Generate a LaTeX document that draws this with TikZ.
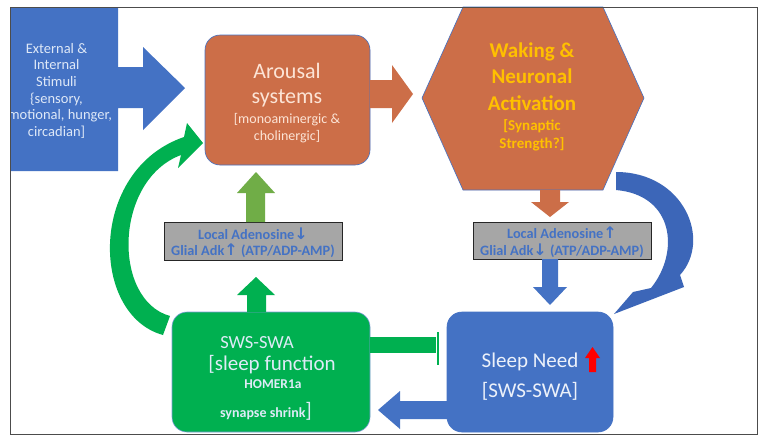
\documentclass[tikz,border=0pt]{standalone}
\usepackage{fontspec}
\setmainfont{Carlito}
\newfontfamily\symfont{DejaVu Sans}
\definecolor{pblue}{RGB}{68,114,196}
\definecolor{dblue}{RGB}{60,102,184}
\definecolor{porange}{RGB}{204,110,72}
\definecolor{pgreen}{RGB}{0,176,80}
\definecolor{lgreen}{RGB}{112,173,71}
\definecolor{pgray}{RGB}{166,166,166}
\definecolor{pyellow}{RGB}{255,192,0}
\definecolor{stimcol}{RGB}{222,232,247}
\definecolor{arocol}{RGB}{252,228,214}
\definecolor{swscol}{RGB}{222,235,247}
\definecolor{needcol}{RGB}{236,241,250}
\begin{document}
\begin{tikzpicture}[x=1pt,y=-1pt,
  lbl/.style={inner sep=0pt, outer sep=0pt, anchor=base},
  stimtext/.style={lbl, text=stimcol, font=\fontsize{14.5}{17}\selectfont},
  arobig/.style={lbl, text=arocol, font=\fontsize{22}{25}\selectfont},
  arosmall/.style={lbl, text=arocol, font=\fontsize{14}{17}\selectfont},
  wakebig/.style={lbl, text=pyellow, font=\bfseries\fontsize{21}{25}\selectfont},
  wakesmall/.style={lbl, text=pyellow, font=\bfseries\fontsize{15}{18}\selectfont},
  graytext/.style={lbl, text=pblue, font=\bfseries\fontsize{14.3}{16}\selectfont},
  swstext/.style={lbl, text=swscol},
  needtext/.style={lbl, text=needcol, font=\fontsize{21}{24}\selectfont},
  roundbox/.style={rounded corners=15pt, line width=0.6pt, inner sep=0pt},
  graybox/.style={draw=black!85, line width=0.8pt, fill=pgray, inner sep=0pt, minimum width=178pt, minimum height=38pt}
]
\useasboundingbox (0,0) rectangle (763,437);
\fill[white] (0,0) rectangle (763,437);

% ---------- stimuli block arrow ----------
\fill[pblue] (10,7) -- (118,7) -- (118,67) -- (143,67) -- (143,47) -- (185,88)
  -- (143,130) -- (143,108) -- (118,108) -- (118,171) -- (10,171) -- cycle;
\begin{scope}
\clip (10,7) rectangle (185,171);
\node[stimtext] (st1) at (56.5,53) {External \&};
\node[stimtext] (st2) at (56.5,69.7) {Internal};
\node[stimtext] (st3) at (56.5,86.4) {Stimuli};
\node[stimtext] (st4) at (56.5,103) {\{sensory,};
\node[stimtext] (st5) at (56.5,119.8) {emotional, hunger,};
\node[stimtext] (st6) at (56.5,136.5) {circadian]};
\end{scope}

% ---------- curved arrows ----------
\fill[pgreen] (163,335) .. controls (90,315) and (88,170) .. (184,137) -- (187,123) -- (203,143)
  -- (178,168) -- (181,155) .. controls (114,180) and (112,300) .. (170,316) -- cycle;
\fill[dblue] (616,172) .. controls (684,172) and (712,240) .. (680,275) -- (684,287) -- (614,314)
  -- (633,292) -- (651,288) .. controls (680,252) and (674,195) .. (616,190) -- cycle;

% ---------- main boxes ----------
\node[roundbox, fill=porange, draw=pblue, minimum width=165pt, minimum height=130pt] (arousal) at (287.5,100) {};
\node[arobig] (ar1) at (287,78) {Arousal};
\node[arobig] (ar2) at (287,103) {systems};
\node[arosmall] (ar3) at (287,123) {[monoaminergic \&};
\node[arosmall] (ar4) at (287,140) {cholinergic]};

\filldraw[fill=porange, draw=pblue, line width=0.6pt] (463,7) -- (603,7) -- (644,98) -- (603,190) -- (463,190) -- (422,98) -- cycle;
\coordinate (waking) at (533,98);
\node[wakebig] (wk1) at (532,57) {Waking \&};
\node[wakebig] (wk2) at (532,83.5) {Neuronal};
\node[wakebig] (wk3) at (532,110) {Activation};
\node[wakesmall] (wk4) at (532,130) {[Synaptic};
\node[wakesmall] (wk5) at (532,148) {Strength?]};

\node[graybox] (adoL) at (253,241) {};
\node[graytext] (gl1) at (253,239) {Local Adenosine{\symfont\fontsize{16}{16}\selectfont↓}};
\node[graytext] (gl2) at (253,255.5) {Glial Adk{\symfont\fontsize{16}{16}\selectfont↑} (ATP/ADP-AMP)};

\node[graybox, minimum height=37pt] (adoR) at (562,240.5) {};
\node[graytext] (gr1) at (562,238.5) {Local Adenosine{\symfont\fontsize{16}{16}\selectfont↑}};
\node[graytext] (gr2) at (562,255) {Glial Adk{\symfont\fontsize{16}{16}\selectfont↓} (ATP/ADP-AMP)};

\node[roundbox, fill=pgreen, draw=pblue!70, minimum width=198pt, minimum height=120pt] (sws) at (271,372) {};
\node[swstext, font=\fontsize{18.5}{20}\selectfont] (sw1) at (257,348) {SWS-SWA};
\node[swstext, font=\fontsize{21}{24}\selectfont] (sw2) at (272,370) {[sleep function};
\node[swstext, font=\bfseries\fontsize{13.5}{15}\selectfont] (sw3) at (273,388) {HOMER1a};
\node[swstext, font=\bfseries\fontsize{14}{16}\selectfont] (sw4) at (266,417) {synapse shrink{\mdseries\fontsize{21}{21}\selectfont]}};

\node[roundbox, fill=pblue, draw=pblue, minimum width=166pt, minimum height=120pt] (need) at (530,372) {};
\node[needtext] (nd1) at (530,367) {Sleep Need};
\node[needtext] (nd2) at (530,397) {[SWS-SWA]};
\fill[red] (592.5,347) -- (600,358) -- (596,358) -- (596,372) -- (589,372) -- (589,358) -- (585,358) -- cycle;

% ---------- straight block arrows ----------
% arousal -> waking
\fill[porange] (370,80) -- (392,80) -- (392,65) -- (413,94) -- (392,123) -- (392,108) -- (370,108) -- cycle;
% waking -> right gray box
\fill[porange] (540,190) -- (560,190) -- (560,202) -- (569,202) -- (550,217) -- (531,202) -- (540,202) -- cycle;
% right gray box -> sleep need
\fill[pblue] (542,259) -- (558,259) -- (558,287) -- (567,287) -- (550,305) -- (533,287) -- (542,287) -- cycle;
% left gray box -> arousal
\fill[lgreen] (246,222) -- (265,222) -- (265,193) -- (275,193) -- (256,172) -- (237,193) -- (246,193) -- cycle;
% sws -> left gray box
\fill[pgreen] (247,312) -- (266,312) -- (266,295) -- (275,295) -- (256,277) -- (237,295) -- (247,295) -- cycle;
% sws --| sleep need (inhibition)
\fill[pgreen] (370,337) rectangle (436,353);
\draw[pgreen, line width=1.3pt] (438,332) -- (438,365);
% sleep need -> sws
\fill[pblue] (447,401) -- (400,401) -- (400,391) -- (378,410) -- (400,429) -- (400,419) -- (447,419) -- cycle;

% ---------- frame ----------
\draw[black!70, line width=0.8pt] (10,7) rectangle (757,434);
\end{tikzpicture}
\end{document}
